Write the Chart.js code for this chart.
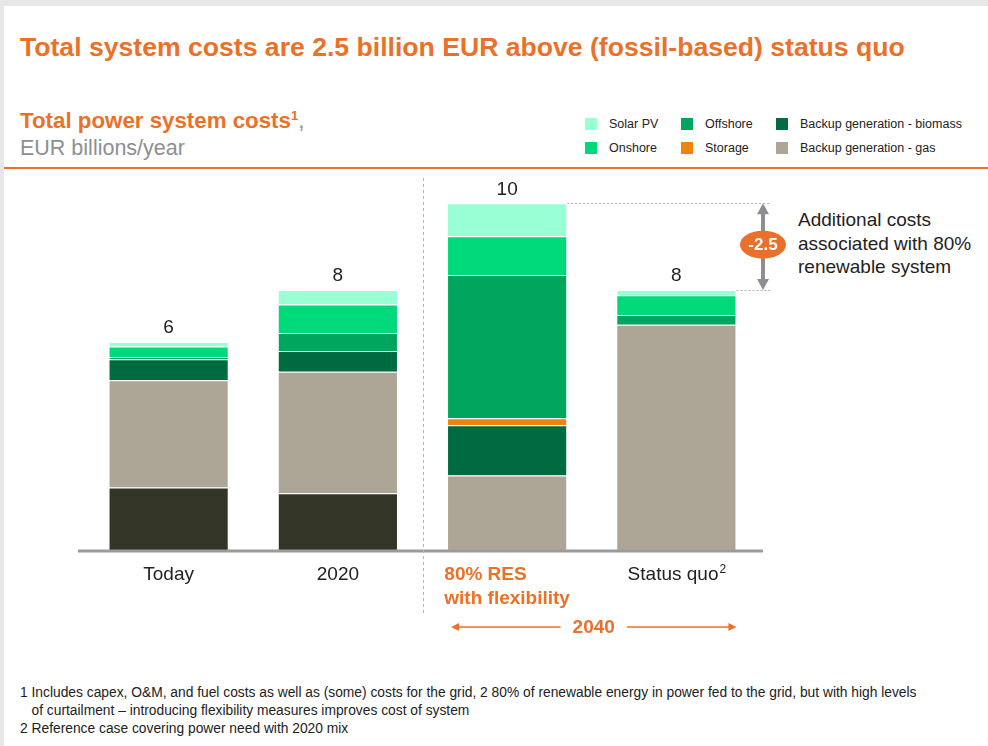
<!DOCTYPE html>
<html>
<head>
<meta charset="utf-8">
<title>Total power system costs</title>
<script src="https://cdn.jsdelivr.net/npm/chart.js@4/dist/chart.umd.min.js"></script>
<style>
  body { margin: 0; width: 988px; height: 746px; background: #e6e7e9; overflow: hidden;
         font-family: "Liberation Sans", Arial, sans-serif; color: #222; }
  #sheet { position: absolute; left: 4px; top: 6px; width: 984px; height: 740px; background: #fff; }
  .abs { position: absolute; white-space: nowrap; }
  #title { left: 20px; top: 32px; font-size: 26.6px; line-height: 30px; font-weight: bold; color: #eb7128; }
  #sub1 { left: 20px; top: 108px; font-size: 22.3px; line-height: 26px; font-weight: bold; color: #eb7128; }
  #sub1 sup { font-size: 13px; vertical-align: 8px; line-height: 0; }
  #sub1 .comma { color: #8e8e93; font-weight: normal; }
  #sub2 { left: 20px; top: 135px; font-size: 21.5px; line-height: 26px; color: #8e8e93; }
  #rule { left: 4px; top: 167px; width: 984px; height: 2px; background: #eb7128; }
  .lg { font-size: 12.5px; line-height: 14px; }
  .lg i { position: absolute; left: 0; top: 1px; width: 12px; height: 12px; }
  .lg span { position: absolute; left: 24px; top: 0; }
  #note { left: 798px; top: 208px; font-size: 19px; line-height: 23.5px; color: #222; }
  #foot { left: 20px; top: 684px; font-size: 13.8px; line-height: 18px; color: #222; }
  #chartBox { position: absolute; left: 0; top: 170px; width: 988px; height: 470px; }
</style>
</head>
<body>
<div id="sheet"></div>
<div class="abs" id="title">Total system costs are 2.5 billion EUR above (fossil-based) status quo</div>
<div class="abs" id="sub1">Total power system costs<sup>1</sup><span class="comma">,</span></div>
<div class="abs" id="sub2">EUR billions/year</div>
<div class="abs" id="rule"></div>
<div id="legend"></div>
<div class="abs" id="note">Additional costs<br>associated with 80%<br>renewable system</div>
<div class="abs" id="foot">1 Includes capex, O&amp;M, and fuel costs as well as (some) costs for the grid, 2 80% of renewable energy in power fed to the grid, but with high levels<br>&nbsp;&nbsp;&nbsp;of curtailment – introducing flexibility measures improves cost of system<br>2 Reference case covering power need with 2020 mix</div>
<div id="chartBox"><canvas id="costChart" width="988" height="470"></canvas></div>

<script>
// Categories and stacked cost components (EUR billions/year), bottom to top
const categories = ['Today', '2020', ['80% RES', 'with flexibility'], 'Status quo'];
const otherConventional = [1.8, 1.64, null, null];
const backupGas = [3.1, 3.5, 2.15, 6.5];
const backupBiomass = [0.6, 0.6, 1.45, null];
const storage = [null, null, 0.2, null];
const offshore = [0.07, 0.52, 4.13, 0.28];
const onshore = [0.3, 0.82, 1.12, 0.57];
const solarPV = [0.13, 0.42, 0.95, 0.15];

const ORANGE = '#eb7128';
const TEXT = '#222';

const series = [
    { label: 'Other conventional', data: otherConventional, color: '#333527', legend: false },
    { label: 'Backup generation - gas', data: backupGas, color: '#ada595' },
    { label: 'Backup generation - biomass', data: backupBiomass, color: '#006b40' },
    { label: 'Storage', data: storage, color: '#f08210' },
    { label: 'Offshore', data: offshore, color: '#00a65e' },
    { label: 'Onshore', data: onshore, color: '#00d97a' },
    { label: 'Solar PV', data: solarPV, color: '#99ffd4' }
];

// Legend: three columns of two entries
const legendOrder = ['Solar PV', 'Onshore', 'Offshore', 'Storage', 'Backup generation - biomass', 'Backup generation - gas'];
const legendCols = [585, 681, 776];
const legendRows = [117, 141];
const legendEl = document.getElementById('legend');
legendOrder.forEach((name, i) => {
    const s = series.find(d => d.label === name);
    const item = document.createElement('div');
    item.className = 'abs lg';
    item.style.left = legendCols[Math.floor(i / 2)] + 'px';
    item.style.top = legendRows[i % 2] + 'px';
    item.innerHTML = '<i style="background:' + s.color + '"></i><span>' + name + '</span>';
    legendEl.appendChild(item);
});

const totals = categories.map((c, i) =>
    Math.round(series.reduce((sum, s) => sum + (s.data[i] || 0), 0) * 10) / 10);

function arrowHead(ctx, x, y, dir, len, half) {
    ctx.beginPath();
    ctx.moveTo(x, y);
    ctx.lineTo(x - dir * len, y - half);
    ctx.lineTo(x - dir * len, y + half);
    ctx.closePath();
    ctx.fill();
}

const overlay = {
    id: 'overlay',
    afterDatasetsDraw(chart) {
        const { ctx, scales: { x, y } } = chart;
        const bars = chart.getDatasetMeta(1).data;
        const barW = bars[0].width;
        const base = y.getPixelForValue(0);
        ctx.save();

        // baseline
        ctx.strokeStyle = '#9b9b9f';
        ctx.lineWidth = 3;
        ctx.beginPath();
        ctx.moveTo(x.left - 6, base + 1);
        ctx.lineTo(x.right + 2, base + 1);
        ctx.stroke();

        // separator between historic and 2040 scenarios
        const sepX = Math.round((x.getPixelForValue(1) + x.getPixelForValue(2)) / 2) + 0.5;
        ctx.strokeStyle = '#b4b4b4';
        ctx.lineWidth = 1;
        ctx.setLineDash([3, 3]);
        ctx.beginPath();
        ctx.moveTo(sepX, y.top - 8);
        ctx.lineTo(sepX, base + 65);
        ctx.stroke();

        // totals on top of each stack
        ctx.setLineDash([]);
        ctx.fillStyle = TEXT;
        ctx.font = '19px "Liberation Sans", Arial, sans-serif';
        ctx.textAlign = 'center';
        ctx.textBaseline = 'middle';
        totals.forEach((t, i) => {
            ctx.fillText(String(Math.round(t)), x.getPixelForValue(i), y.getPixelForValue(t) - 14);
        });

        // gap between the 2040 scenarios
        const yR = y.getPixelForValue(totals[2]);
        const yS = y.getPixelForValue(totals[3]);
        const ax = x.right + 2;
        ctx.strokeStyle = '#b0b0b0';
        ctx.lineWidth = 1;
        ctx.setLineDash([2, 2]);
        ctx.beginPath();
        ctx.moveTo(x.getPixelForValue(2) + barW / 2, Math.round(yR) + 0.5);
        ctx.lineTo(ax + 8, Math.round(yR) + 0.5);
        ctx.moveTo(x.getPixelForValue(3) + barW / 2, Math.round(yS) + 0.5);
        ctx.lineTo(ax + 8, Math.round(yS) + 0.5);
        ctx.stroke();
        ctx.setLineDash([]);
        ctx.strokeStyle = '#8e8e92';
        ctx.fillStyle = '#8e8e92';
        ctx.lineWidth = 4;
        ctx.beginPath();
        ctx.moveTo(ax, yR + 8);
        ctx.lineTo(ax, yS - 8);
        ctx.stroke();
        ctx.beginPath();
        ctx.moveTo(ax, yR); ctx.lineTo(ax - 6, yR + 11); ctx.lineTo(ax + 6, yR + 11); ctx.closePath();
        ctx.moveTo(ax, yS); ctx.lineTo(ax - 6, yS - 11); ctx.lineTo(ax + 6, yS - 11); ctx.closePath();
        ctx.fill();
        const my = (yR + yS) / 2 - 2;
        ctx.fillStyle = '#e8702a';
        ctx.beginPath();
        ctx.ellipse(ax, my, 23, 14, 0, 0, Math.PI * 2);
        ctx.fill();
        ctx.fillStyle = '#fff';
        ctx.font = 'bold 17px "Liberation Sans", Arial, sans-serif';
        ctx.fillText((totals[3] - totals[2]).toFixed(1), ax, my + 1);

        // category labels
        const labelY = base + 25;
        categories.forEach((c, i) => {
            const cx = x.getPixelForValue(i);
            if (Array.isArray(c)) {
                ctx.font = 'bold 19px "Liberation Sans", Arial, sans-serif';
                ctx.fillStyle = ORANGE;
                const w = Math.max(...c.map(l => ctx.measureText(l).width));
                ctx.textAlign = 'left';
                c.forEach((l, k) => ctx.fillText(l, cx - w / 2, labelY + k * 24));
            } else if (c === 'Status quo') {
                ctx.font = '19px "Liberation Sans", Arial, sans-serif';
                ctx.fillStyle = TEXT;
                const w1 = ctx.measureText(c).width;
                ctx.font = '12px "Liberation Sans", Arial, sans-serif';
                const w2 = ctx.measureText('2').width;
                const left = cx - (w1 + w2) / 2;
                ctx.textAlign = 'left';
                ctx.fillText('2', left + w1 + 1, labelY - 5);
                ctx.font = '19px "Liberation Sans", Arial, sans-serif';
                ctx.fillText(c, left, labelY);
            } else {
                ctx.font = '19px "Liberation Sans", Arial, sans-serif';
                ctx.fillStyle = TEXT;
                ctx.textAlign = 'center';
                ctx.fillText(c, cx, labelY);
            }
        });

        // 2040 span under the scenario bars
        const spanL = x.getPixelForValue(2) - barW / 2 + 4;
        const spanR = x.getPixelForValue(3) + barW / 2;
        const midX = (x.getPixelForValue(2) + x.getPixelForValue(3)) / 2 + 2;
        const spanY = base + 78;
        ctx.font = 'bold 19px "Liberation Sans", Arial, sans-serif';
        ctx.fillStyle = ORANGE;
        ctx.strokeStyle = ORANGE;
        ctx.textAlign = 'center';
        ctx.fillText('2040', midX, spanY);
        const tw = ctx.measureText('2040').width;
        ctx.lineWidth = 1.5;
        ctx.beginPath();
        ctx.moveTo(spanL + 6, spanY - 1);
        ctx.lineTo(midX - tw / 2 - 12, spanY - 1);
        ctx.moveTo(midX + tw / 2 + 12, spanY - 1);
        ctx.lineTo(spanR - 6, spanY - 1);
        ctx.stroke();
        arrowHead(ctx, spanL, spanY - 1, -1, 8, 4);
        arrowHead(ctx, spanR, spanY - 1, 1, 8, 4);

        ctx.restore();
    }
};

new Chart(document.getElementById('costChart'), {
    type: 'bar',
    data: {
        labels: categories,
        datasets: series.map(s => ({
            label: s.label,
            data: s.data,
            backgroundColor: s.color,
            borderColor: '#ffffff',
            borderWidth: { top: 1, left: 1, right: 1, bottom: 0 },
            borderSkipped: false,
            barPercentage: 0.71,
            categoryPercentage: 1
        }))
    },
    options: {
        responsive: false,
        animation: false,
        layout: { padding: { left: 84, right: 227, top: 16, bottom: 82 } },
        plugins: { legend: { display: false }, tooltip: { enabled: false } },
        scales: {
            x: {
                stacked: true,
                grid: { display: false },
                border: { display: false },
                ticks: { display: false }
            },
            y: {
                stacked: true,
                display: false,
                min: 0,
                max: 10.5
            }
        }
    },
    plugins: [overlay]
});
</script>
</body>
</html>
